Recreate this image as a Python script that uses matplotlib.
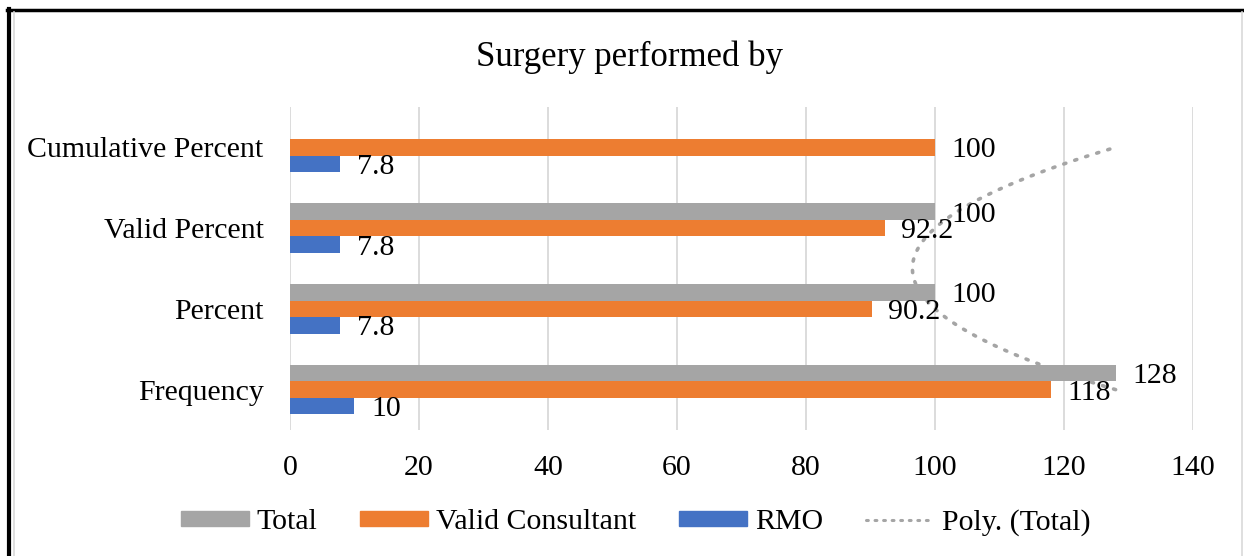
import matplotlib
matplotlib.use("Agg")
import matplotlib.pyplot as plt
from matplotlib.lines import Line2D
from matplotlib.patches import Rectangle
import numpy as np

plt.rcParams['font.family'] = ['Liberation Serif', 'DejaVu Serif']

# data (categories bottom -> top)
CATEGORIES = ["Frequency", "Percent", "Valid Percent", "Cumulative Percent"]
TOTAL = [128, 100, 100, None]
VALID_CONSULTANT = [118, 90.2, 92.2, 100]
RMO = [10, 7.8, 7.8, 7.8]

SERIES_NAMES = ["Total", "Valid Consultant", "RMO"]
COLORS = ["#A5A5A5", "#ED7D31", "#4472C4"]

TITLE = "Surgery performed by"
X_TICKS = [0, 20, 40, 60, 80, 100, 120, 140]

FS = 21.5
BAR_H = 0.205


def main():
    fig = plt.figure(figsize=(12.44, 5.56), dpi=100)
    ax = fig.add_axes([0.2331, 0.2266, 0.9590 - 0.2331, 0.8076 - 0.2266])

    y = np.arange(len(CATEGORIES))
    offsets = [BAR_H, 0, -BAR_H]
    all_series = [TOTAL, VALID_CONSULTANT, RMO]

    for vals, name, color, off in zip(all_series, SERIES_NAMES, COLORS, offsets):
        for yi, v in zip(y, vals):
            if v is None:
                continue
            ax.barh(yi + off, v, height=BAR_H, color=color, zorder=2)
            ax.annotate(f"{v:g}", xy=(v, yi + off), xytext=(12, 0),
                        textcoords="offset points", ha="left",
                        va="center_baseline", fontsize=FS, zorder=4)

    # polynomial (order 2) trendline of Total
    idx = [i for i, v in enumerate(TOTAL) if v is not None]
    coef = np.polyfit(idx, [TOTAL[i] for i in idx], 2)
    t = np.linspace(0, len(CATEGORIES) - 1, 200)
    ax.plot(np.polyval(coef, t), t, linestyle=(0, (0.6, 2.6)), color="#A5A5A5",
            linewidth=2.6, dash_capstyle="round", zorder=3)

    ax.set_xlim(0, 140)
    ax.set_ylim(-0.5, len(CATEGORIES) - 0.5)
    ax.set_xticks(X_TICKS)
    ax.set_yticks(y)
    ax.set_yticklabels(CATEGORIES)
    ax.tick_params(axis="both", length=0, labelsize=FS)
    ax.tick_params(axis="x", pad=18)
    ax.tick_params(axis="y", pad=19)
    for s in ax.spines.values():
        s.set_visible(False)
    ax.grid(axis="x", color="#D9D9D9", linewidth=1.3, zorder=0)
    ax.set_axisbelow(True)

    fig.text(0.506, 0.897, TITLE, ha="center", va="center", fontsize=25)

    handles = [Rectangle((0, 0), 1, 1, color=c) for c in COLORS]
    handles.append(Line2D([0], [0], color="#A5A5A5", linestyle=(0, (0.6, 2.2)),
                          linewidth=2.2, dash_capstyle="round"))
    labels = SERIES_NAMES + ["Poly. (Total)"]
    fig.legend(handles, labels, loc="center", bbox_to_anchor=(0.511, 0.061),
               ncol=4, frameon=False, fontsize=FS, handlelength=2.27,
               handleheight=0.43, handletextpad=0.27, columnspacing=1.43)

    # frame around the chart
    fig.add_artist(Line2D([0.0072, 0.0072], [0, 0.9838], color="black",
                          linewidth=3, transform=fig.transFigure))
    fig.add_artist(Line2D([0.0056, 1], [0.9820, 0.9820], color="black",
                          linewidth=2.5, transform=fig.transFigure))
    fig.add_artist(Line2D([0.0115, 0.0115], [0, 0.978], color="#D9D9D9",
                          linewidth=1.2, transform=fig.transFigure))
    fig.add_artist(Line2D([0.9985, 0.9985], [0, 0.978], color="#D9D9D9",
                          linewidth=1.2, transform=fig.transFigure))

    fig.savefig("out.png", dpi=100)
    plt.close(fig)


main()
